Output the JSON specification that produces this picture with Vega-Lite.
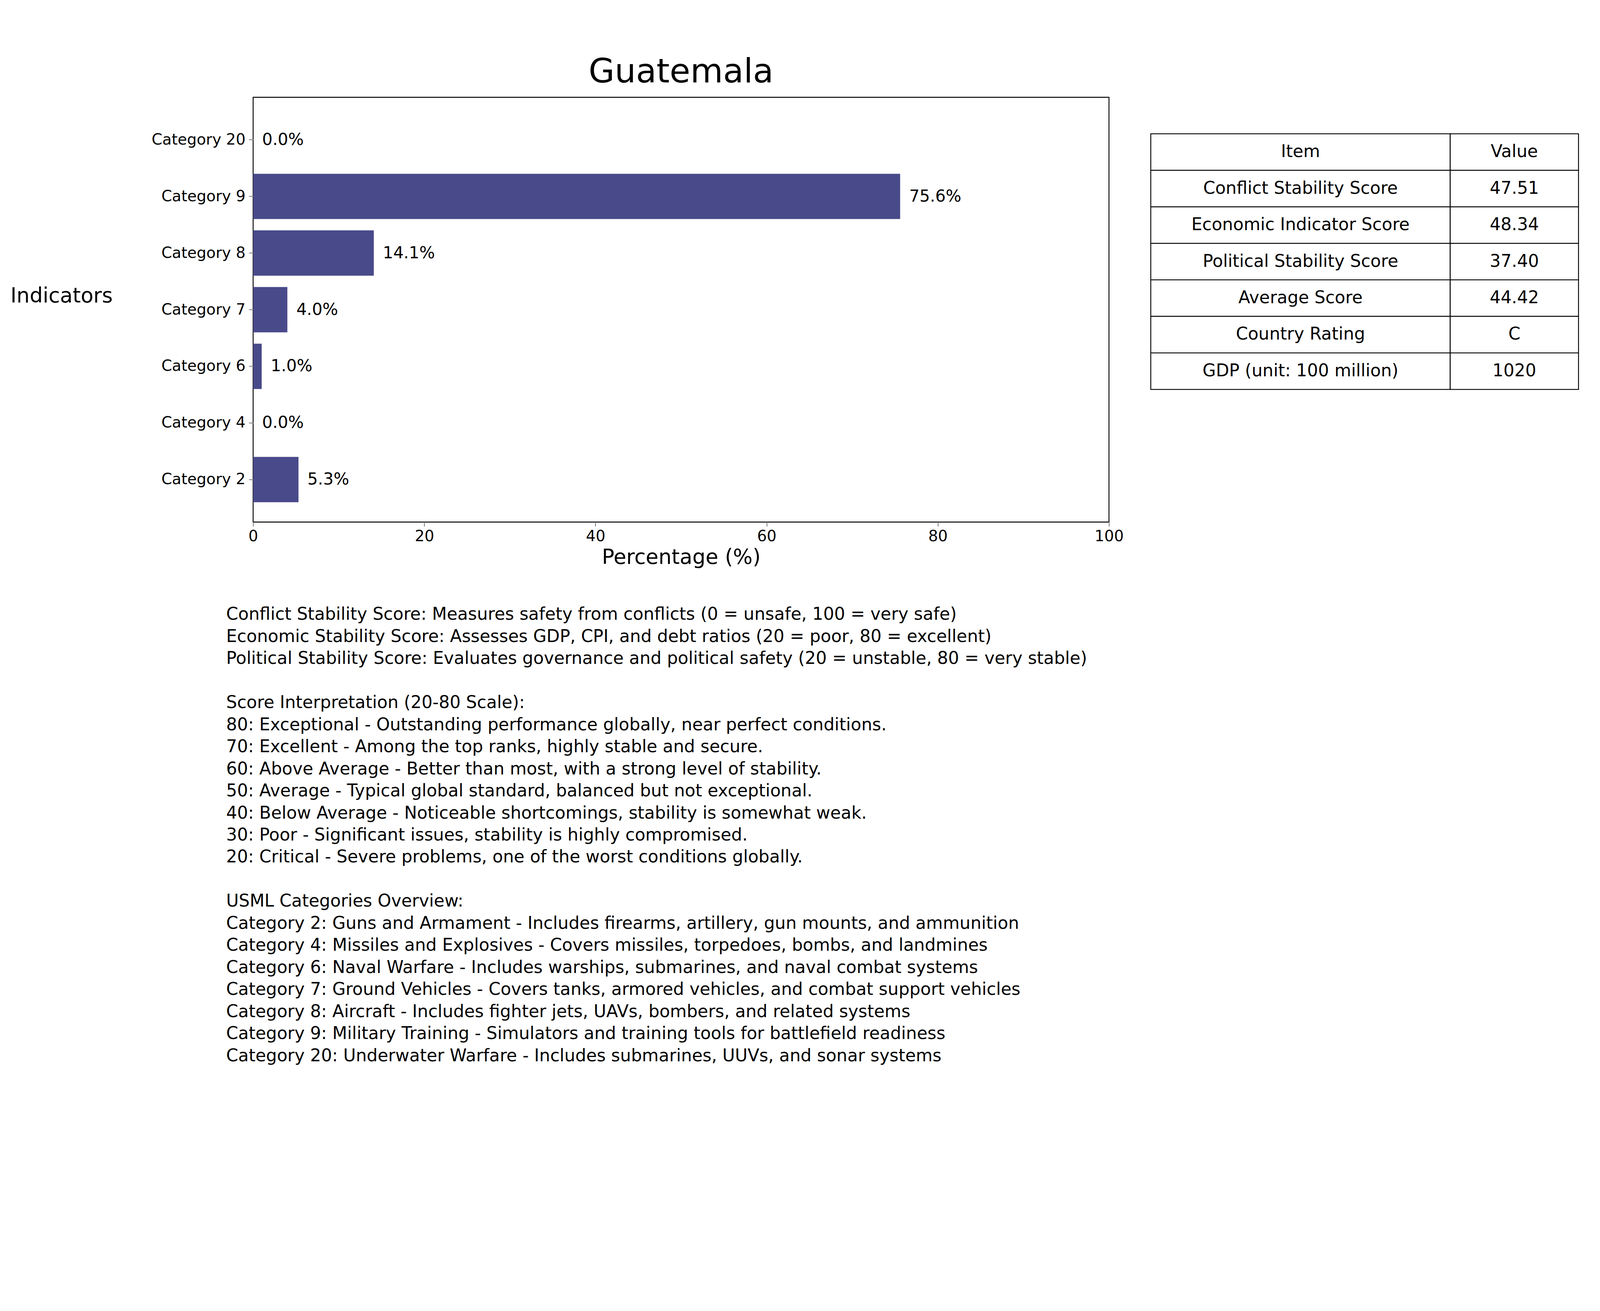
{
"$schema":"https://vega.github.io/schema/vega-lite/v6.json",
"background":"white",
"padding":{"left":25,"top":20,"right":5,"bottom":5},
"config":{"font":"DejaVu Sans","view":{"stroke":"black","strokeWidth":2.3}},
"vconcat":[
{"hconcat":[
{"width":2191,"height":1087,
"title":{"text":"Guatemala","fontSize":86,"fontWeight":"normal","font":"DejaVu Sans","offset":20},
"data":{"values":[
{"cat":"Category 20","pct":0.0,"label":"0.0%"},
{"cat":"Category 9","pct":75.6,"label":"75.6%"},
{"cat":"Category 8","pct":14.1,"label":"14.1%"},
{"cat":"Category 7","pct":4.0,"label":"4.0%"},
{"cat":"Category 6","pct":1.0,"label":"1.0%"},
{"cat":"Category 4","pct":0.0,"label":"0.0%"},
{"cat":"Category 2","pct":5.3,"label":"5.3%"}]},
"encoding":{
"y":{"field":"cat","type":"nominal","sort":null,"scale":{"paddingInner":0.2,"paddingOuter":0.35},
"axis":{"title":"Indicators","titleAngle":0,"titleAlign":"right","titleBaseline":"middle","titleX":-360,"titleY":508,"titleFontSize":53,"titleFontWeight":"normal","labelFontSize":39,"labelLimit":0,"labelPadding":9,"tickSize":11,"tickWidth":2.3,"domain":false,"labelColor":"black"}},
"x":{"field":"pct","type":"quantitative","scale":{"domain":[0,100]},
"axis":{"title":"Percentage (%)","titleFontSize":53,"titleFontWeight":"normal","labelFontSize":39,"values":[0,20,40,60,80,100],"labelOverlap":false,"grid":false,"domain":false,"tickSize":11,"tickWidth":2.3,"labelPadding":6,"titlePadding":8,"labelColor":"black","labelFlush":false}}},
"layer":[
{"mark":{"type":"bar","color":"#484a8a"}},
{"mark":{"type":"text","align":"left","dx":23,"fontSize":42,"baseline":"middle"},"encoding":{"text":{"field":"label"}}}
]},
{"width":1095,"height":841,
"view":{"stroke":null},
"title":{"text":"Guatemala","fontSize":86,"fontWeight":"normal","offset":142,"color":"transparent"},
"data":{"values":[
{"item":"Item","value":"Value"},
{"item":"Conflict Stability Score","value":"47.51"},
{"item":"Economic Indicator Score","value":"48.34"},
{"item":"Political Stability Score","value":"37.40"},
{"item":"Average Score","value":"44.42"},
{"item":"Country Rating","value":"C"},
{"item":"GDP (unit: 100 million)","value":"1020"}]},
"encoding":{"y":{"field":"item","type":"nominal","sort":null,"scale":{"paddingInner":0,"paddingOuter":1},"axis":null}},
"layer":[
{"mark":{"type":"rect","fill":"white","stroke":"black","strokeWidth":2.3},"encoding":{"x":{"datum":0,"type":"quantitative","scale":{"domain":[0,1]},"axis":null},"x2":{"datum":0.7}}},
{"mark":{"type":"rect","fill":"white","stroke":"black","strokeWidth":2.3},"encoding":{"x":{"datum":0.7,"type":"quantitative"},"x2":{"datum":1}}},
{"mark":{"type":"text","fontSize":44,"baseline":"middle","align":"center"},"encoding":{"x":{"datum":0.35,"type":"quantitative"},"text":{"field":"item"}}},
{"mark":{"type":"text","fontSize":44,"baseline":"middle","align":"center"},"encoding":{"x":{"datum":0.85,"type":"quantitative"},"text":{"field":"value"}}}
]}
],"spacing":66},
{"width":3000,"height":1186,"view":{"stroke":null},
"data":{"values":[
{"i":1,"t":"Conflict Stability Score: Measures safety from conflicts (0 = unsafe, 100 = very safe)"},
{"i":2,"t":"Economic Stability Score: Assesses GDP, CPI, and debt ratios (20 = poor, 80 = excellent)"},
{"i":3,"t":"Political Stability Score: Evaluates governance and political safety (20 = unstable, 80 = very stable)"},
{"i":4,"t":""},
{"i":5,"t":"Score Interpretation (20-80 Scale):"},
{"i":6,"t":"80: Exceptional - Outstanding performance globally, near perfect conditions."},
{"i":7,"t":"70: Excellent - Among the top ranks, highly stable and secure."},
{"i":8,"t":"60: Above Average - Better than most, with a strong level of stability."},
{"i":9,"t":"50: Average - Typical global standard, balanced but not exceptional."},
{"i":10,"t":"40: Below Average - Noticeable shortcomings, stability is somewhat weak."},
{"i":11,"t":"30: Poor - Significant issues, stability is highly compromised."},
{"i":12,"t":"20: Critical - Severe problems, one of the worst conditions globally."},
{"i":13,"t":""},
{"i":14,"t":"USML Categories Overview:"},
{"i":15,"t":"Category 2: Guns and Armament - Includes firearms, artillery, gun mounts, and ammunition"},
{"i":16,"t":"Category 4: Missiles and Explosives - Covers missiles, torpedoes, bombs, and landmines"},
{"i":17,"t":"Category 6: Naval Warfare - Includes warships, submarines, and naval combat systems"},
{"i":18,"t":"Category 7: Ground Vehicles - Covers tanks, armored vehicles, and combat support vehicles"},
{"i":19,"t":"Category 8: Aircraft - Includes fighter jets, UAVs, bombers, and related systems"},
{"i":20,"t":"Category 9: Military Training - Simulators and training tools for battlefield readiness"},
{"i":21,"t":"Category 20: Underwater Warfare - Includes submarines, UUVs, and sonar systems"}]},
"mark":{"type":"text","align":"left","baseline":"middle","fontSize":44},
"encoding":{
"y":{"field":"i","type":"ordinal","axis":null,"scale":{"paddingInner":0,"paddingOuter":0}},
"x":{"datum":-69,"type":"quantitative","scale":{"domain":[0,3000]},"axis":null},
"text":{"field":"t"}}}
],"spacing":90}
